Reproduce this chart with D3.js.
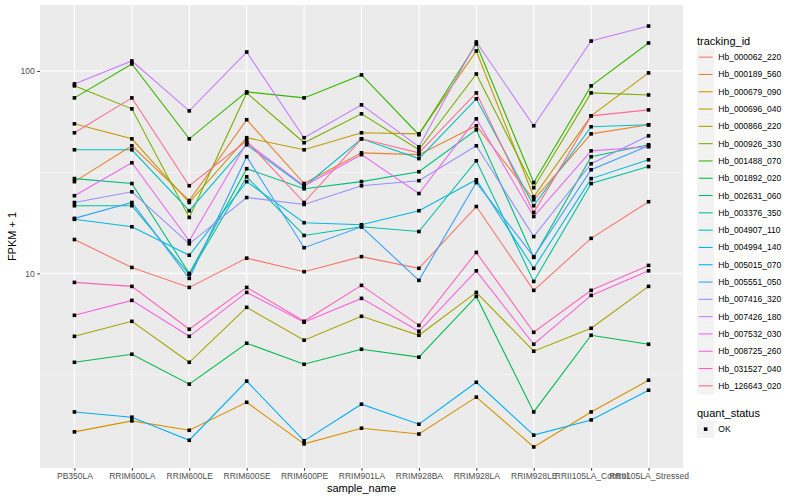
<!DOCTYPE html>
<html>
<head>
<meta charset="utf-8">
<script src="https://cdn.jsdelivr.net/npm/d3@7"></script>
<style>
  body { margin: 0; background: #fff; }
  text { font-family: "Liberation Sans", Arial, sans-serif; }
</style>
</head>
<body>
<div id="chart"></div>
<script>
// sample names on the x axis
const samples = ['PB350LA', 'RRIM600LA', 'RRIM600LE', 'RRIM600SE', 'RRIM600PE',
    'RRIM901LA', 'RRIM928BA', 'RRIM928LA', 'RRIM928LE', 'RRII105LA_Control', 'RRII105LA_Stressed'];

// FPKM + 1 per sample, one array per tracking_id
const hb_000062_220 = [14.7, 10.7, 8.53, 11.9, 10.2, 12.1, 10.6, 21.4, 8.25, 14.9, 22.6];
const hb_000189_560 = [28.4, 42.7, 22.9, 57.4, 27.8, 39.4, 38.6, 53.6, 23.1, 48.9, 54.2];
const hb_000679_090 = [1.65, 1.87, 1.68, 2.31, 1.44, 1.72, 1.61, 2.45, 1.39, 2.07, 2.97];
const hb_000696_040 = [54.8, 46.2, 22.4, 46.8, 40.8, 49.5, 48.9, 125.5, 23.9, 60.0, 97.8];
const hb_000866_220 = [4.89, 5.80, 3.64, 6.80, 4.68, 6.14, 4.95, 8.06, 4.13, 5.36, 8.63];
const hb_000926_330 = [84.4, 65.0, 18.9, 77.9, 44.2, 61.4, 40.8, 96.6, 26.5, 77.9, 76.1];
const hb_001488_070 = [73.6, 108.3, 46.2, 78.8, 73.6, 95.6, 48.4, 135.8, 28.1, 84.4, 137.4];
const hb_001892_020 = [3.64, 3.99, 2.84, 4.52, 3.56, 4.22, 3.86, 7.70, 2.07, 4.95, 4.47];
const hb_002631_060 = [29.4, 27.8, 10.0, 32.9, 26.2, 28.4, 31.8, 51.2, 12.0, 37.7, 43.2];
const hb_003376_350 = [21.6, 21.6, 9.89, 30.0, 15.4, 17.0, 16.1, 36.0, 9.13, 27.8, 33.7];
const hb_004907_110 = [40.8, 40.8, 20.4, 43.2, 26.8, 46.2, 36.9, 72.8, 21.6, 53.0, 54.2];
const hb_004994_140 = [18.5, 17.0, 12.3, 28.4, 17.8, 17.4, 20.4, 29.0, 10.6, 29.4, 36.4];
const hb_005015_070 = [2.07, 1.95, 1.50, 2.94, 1.49, 2.26, 1.80, 2.90, 1.59, 1.89, 2.65];
const hb_005551_050 = [18.7, 22.4, 9.45, 37.7, 13.4, 17.0, 9.24, 28.1, 12.1, 32.5, 42.7];
const hb_007416_320 = [22.4, 25.3, 14.0, 23.7, 21.9, 27.1, 28.7, 42.7, 15.2, 34.8, 47.8];
const hb_007426_180 = [86.3, 112.0, 63.5, 124.0, 46.8, 68.0, 42.2, 139.0, 53.6, 140.5, 166.6];
const hb_007532_030 = [24.2, 35.2, 14.5, 44.2, 27.1, 38.6, 24.8, 58.0, 19.1, 40.3, 42.2];
const hb_008725_260 = [6.21, 7.36, 4.89, 8.06, 5.74, 7.53, 5.18, 10.3, 4.47, 7.79, 10.3];
const hb_031527_040 = [9.03, 8.63, 5.30, 8.53, 5.80, 8.73, 5.54, 12.7, 5.12, 8.25, 10.95];
const hb_126643_020 = [49.5, 73.6, 27.1, 45.2, 22.4, 46.2, 39.4, 77.9, 20.0, 60.0, 64.2];

const trackingIds = ['Hb_000062_220', 'Hb_000189_560', 'Hb_000679_090', 'Hb_000696_040',
    'Hb_000866_220', 'Hb_000926_330', 'Hb_001488_070', 'Hb_001892_020', 'Hb_002631_060',
    'Hb_003376_350', 'Hb_004907_110', 'Hb_004994_140', 'Hb_005015_070', 'Hb_005551_050',
    'Hb_007416_320', 'Hb_007426_180', 'Hb_007532_030', 'Hb_008725_260', 'Hb_031527_040',
    'Hb_126643_020'];
const seriesValues = [hb_000062_220, hb_000189_560, hb_000679_090, hb_000696_040,
    hb_000866_220, hb_000926_330, hb_001488_070, hb_001892_020, hb_002631_060,
    hb_003376_350, hb_004907_110, hb_004994_140, hb_005015_070, hb_005551_050,
    hb_007416_320, hb_007426_180, hb_007532_030, hb_008725_260, hb_031527_040,
    hb_126643_020];

const quantStatus = ['OK'];
const yTicks = [10, 100];

// ggplot hue palette, 20 levels
const palette = ['#F8766D', '#EA8331', '#D89000', '#C09B00', '#A3A500', '#7CAE00',
    '#39B600', '#00BB4E', '#00BF7D', '#00C1A3', '#00BFC4', '#00BAE0', '#00B0F6',
    '#35A2FF', '#9590FF', '#C77CFF', '#E76BF3', '#FA62DB', '#FF62BC', '#FF6C91'];

const series = trackingIds.map((id, i) => ({
    id: id,
    values: seriesValues[i].map((v, j) => ({ sample: samples[j], value: v })),
}));

const width = 800;
const height = 500;
const panel = { left: 40, top: 5, right: 683, bottom: 468 };

const svg = d3.select('#chart')
    .append('svg')
    .attr('width', width)
    .attr('height', height);

const x = d3.scalePoint()
    .domain(samples)
    .range([panel.left, panel.right])
    .padding(0.6);

// log scale with ggplot's 5% expansion
const allValues = seriesValues.flat();
const lo = Math.log10(d3.min(allValues));
const hi = Math.log10(d3.max(allValues));
const pad = (hi - lo) * 0.05;
const y = d3.scaleLog()
    .domain([Math.pow(10, lo - pad), Math.pow(10, hi + pad)])
    .range([panel.bottom, panel.top]);

const color = d3.scaleOrdinal().domain(trackingIds).range(palette);

// panel background
svg.append('rect')
    .attr('x', panel.left)
    .attr('y', panel.top)
    .attr('width', panel.right - panel.left)
    .attr('height', panel.bottom - panel.top)
    .attr('fill', '#EBEBEB');

// minor grid (halfway between decades in log space)
const minor = [Math.sqrt(10), Math.sqrt(1000)];
svg.selectAll('line.minor')
    .data(minor)
    .enter()
    .append('line')
    .attr('x1', panel.left)
    .attr('x2', panel.right)
    .attr('y1', (d) => y(d))
    .attr('y2', (d) => y(d))
    .attr('stroke', '#fff')
    .attr('stroke-width', 0.55);

// major grid
svg.selectAll('line.hgrid')
    .data(yTicks)
    .enter()
    .append('line')
    .attr('x1', panel.left)
    .attr('x2', panel.right)
    .attr('y1', (d) => y(d))
    .attr('y2', (d) => y(d))
    .attr('stroke', '#fff')
    .attr('stroke-width', 1.1);

svg.selectAll('line.vgrid')
    .data(samples)
    .enter()
    .append('line')
    .attr('x1', (d) => x(d))
    .attr('x2', (d) => x(d))
    .attr('y1', panel.top)
    .attr('y2', panel.bottom)
    .attr('stroke', '#fff')
    .attr('stroke-width', 1.1);

// lines
const line = d3.line()
    .x((d) => x(d.sample))
    .y((d) => y(d.value));

svg.append('g')
    .selectAll('path')
    .data(series)
    .enter()
    .append('path')
    .attr('d', (d) => line(d.values))
    .attr('fill', 'none')
    .attr('stroke', (d) => color(d.id))
    .attr('stroke-width', 1.1);

// points
svg.append('g')
    .selectAll('rect')
    .data(series.flatMap((s) => s.values))
    .enter()
    .append('rect')
    .attr('x', (d) => x(d.sample) - 1.8)
    .attr('y', (d) => y(d.value) - 1.8)
    .attr('width', 3.6)
    .attr('height', 3.6)
    .attr('fill', '#000');

// axes
const xAxis = d3.axisBottom(x).tickSize(2.75).tickPadding(2.5);
const gx = svg.append('g')
    .attr('transform', `translate(0,${panel.bottom})`)
    .call(xAxis);
gx.select('.domain').remove();
gx.selectAll('line').attr('stroke', '#333');
gx.selectAll('text')
    .attr('fill', '#4D4D4D')
    .style('font-size', '8.5px');

const yAxis = d3.axisLeft(y).tickValues(yTicks).tickFormat(d3.format('d')).tickSize(2.75).tickPadding(2.5);
const gy = svg.append('g')
    .attr('transform', `translate(${panel.left},0)`)
    .call(yAxis);
gy.select('.domain').remove();
gy.selectAll('line').attr('stroke', '#333');
gy.selectAll('text')
    .attr('fill', '#4D4D4D')
    .style('font-size', '8.5px');

// axis titles
svg.append('text')
    .attr('x', (panel.left + panel.right) / 2)
    .attr('y', 492)
    .attr('text-anchor', 'middle')
    .style('font-size', '11px')
    .text('sample_name');

svg.append('text')
    .attr('transform', `translate(16,${(panel.top + panel.bottom) / 2}) rotate(-90)`)
    .attr('text-anchor', 'middle')
    .style('font-size', '11px')
    .text('FPKM + 1');

// legend: tracking_id
const legendX = 697;
const keySize = 17.3;
const legend = svg.append('g');

legend.append('text')
    .attr('x', legendX)
    .attr('y', 45)
    .style('font-size', '11px')
    .text('tracking_id');

const keys = legend.selectAll('g.key')
    .data(trackingIds)
    .enter()
    .append('g')
    .attr('transform', (d, i) => `translate(${legendX},${48.5 + i * keySize})`);

keys.append('rect')
    .attr('width', keySize)
    .attr('height', keySize)
    .attr('fill', '#F2F2F2');

keys.append('line')
    .attr('x1', 1.7)
    .attr('x2', keySize - 1.7)
    .attr('y1', keySize / 2)
    .attr('y2', keySize / 2)
    .attr('stroke', (d) => color(d))
    .attr('stroke-width', 1.1);

keys.append('text')
    .attr('x', keySize + 4)
    .attr('y', keySize / 2 + 3)
    .style('font-size', '8.5px')
    .text((d) => d);

// legend: quant_status
legend.append('text')
    .attr('x', legendX)
    .attr('y', 417)
    .style('font-size', '11px')
    .text('quant_status');

const qKeys = legend.selectAll('g.qkey')
    .data(quantStatus)
    .enter()
    .append('g')
    .attr('transform', (d, i) => `translate(${legendX},${420.5 + i * keySize})`);

qKeys.append('rect')
    .attr('width', keySize)
    .attr('height', keySize)
    .attr('fill', '#F2F2F2');

qKeys.append('rect')
    .attr('x', keySize / 2 - 1.8)
    .attr('y', keySize / 2 - 1.8)
    .attr('width', 3.6)
    .attr('height', 3.6)
    .attr('fill', '#000');

qKeys.append('text')
    .attr('x', keySize + 4)
    .attr('y', keySize / 2 + 3)
    .style('font-size', '8.5px')
    .text((d) => d);
</script>
</body>
</html>
